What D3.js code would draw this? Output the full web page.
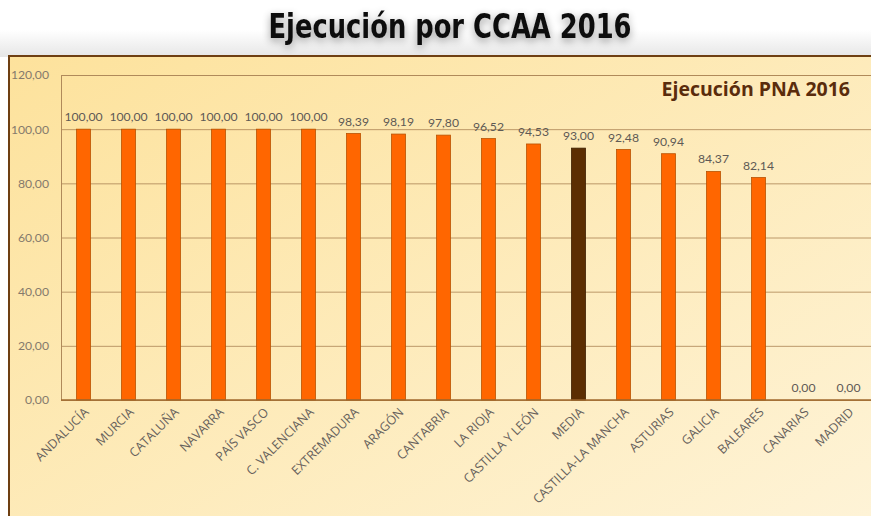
<!DOCTYPE html>
<html>
<head>
<meta charset="utf-8">
<script src="https://cdn.jsdelivr.net/npm/d3@7"></script>
<style>
  html, body { margin: 0; padding: 0; background: #fff; }
  svg { display: block; }
</style>
</head>
<body>
<div id="chart"></div>
<script>
// chart data
var regiones = ["ANDALUCÍA", "MURCIA", "CATALUÑA", "NAVARRA", "PAÍS VASCO", "C. VALENCIANA",
  "EXTREMADURA", "ARAGÓN", "CANTABRIA", "LA RIOJA", "CASTILLA Y LEÓN", "MEDIA",
  "CASTILLA-LA MANCHA", "ASTURIAS", "GALICIA", "BALEARES", "CANARIAS", "MADRID"];
var ejecucion = [100, 100, 100, 100, 100, 100, 98.39, 98.19, 97.80, 96.52, 94.53, 93.00,
  92.48, 90.94, 84.37, 82.14, 0, 0];
var yTicks = [0, 20, 40, 60, 80, 100, 120];
var titulo = "Ejecución por CCAA 2016";
var subtitulo = "Ejecución PNA 2016";

((() => {
  var width = 871;
  var height = 516;

  var svg = d3.select("#chart")
    .append("svg")
    .attr("width", width)
    .attr("height", height);

  var defs = svg.append("defs");

  var bg = defs.append("linearGradient").attr("id", "panelBg")
    .attr("x1", 0).attr("y1", 0).attr("x2", 1).attr("y2", 1);
  bg.append("stop").attr("offset", "0%").attr("stop-color", "#fde29c");
  bg.append("stop").attr("offset", "100%").attr("stop-color", "#fef4da");

  var topShade = defs.append("linearGradient").attr("id", "topShade")
    .attr("x1", 0).attr("y1", 0).attr("x2", 0).attr("y2", 1);
  topShade.append("stop").attr("offset", "0%").attr("stop-color", "#ffffff");
  topShade.append("stop").attr("offset", "100%").attr("stop-color", "#e6e6e6");

  var glow = defs.append("filter").attr("id", "glow")
    .attr("x", "-20%").attr("y", "-60%").attr("width", "140%").attr("height", "220%");
  glow.append("feGaussianBlur").attr("in", "SourceAlpha").attr("stdDeviation", 4).attr("result", "b");
  glow.append("feOffset").attr("in", "b").attr("dy", 3).attr("result", "o");
  glow.append("feComponentTransfer").attr("in", "o").attr("result", "s")
    .append("feFuncA").attr("type", "linear").attr("slope", 0.4);
  var merge = glow.append("feMerge");
  merge.append("feMergeNode").attr("in", "s");
  merge.append("feMergeNode").attr("in", "SourceGraphic");

  // grey shading above the panel
  svg.append("rect").attr("x", 0).attr("y", 30).attr("width", width).attr("height", 27)
    .attr("fill", "url(#topShade)");

  // panel
  svg.append("rect")
    .attr("x", 9).attr("y", 56)
    .attr("width", width).attr("height", height)
    .attr("fill", "url(#panelBg)")
    .attr("stroke", "#6e3f12")
    .attr("stroke-width", 2);

  // title
  svg.append("text")
    .attr("x", 450).attr("y", 38)
    .attr("text-anchor", "middle")
    .attr("font-family", "'DejaVu Sans Condensed', 'Liberation Sans Narrow', sans-serif")
    .attr("font-stretch", "condensed")
    .attr("font-weight", "bold")
    .attr("font-size", 33)
    .attr("fill", "#111")
    .attr("filter", "url(#glow)")
    .attr("textLength", 363)
    .attr("lengthAdjust", "spacingAndGlyphs")
    .text(titulo);

  var left = 61, right = 871, top = 75, bottom = 400;

  var x = d3.scaleBand()
    .domain(regiones)
    .range([left, right])
    .paddingInner(0.69)
    .paddingOuter(0.345);

  var y = d3.scaleLinear()
    .domain([0, 120])
    .range([bottom, top]);

  var fmt = function(v) { return d3.format(".2f")(v).replace(".", ","); };

  // gridlines
  var yAxis = d3.axisLeft(y)
    .tickValues(yTicks)
    .tickSize(-(right - left))
    .tickPadding(12)
    .tickFormat(fmt);

  var ya = svg.append("g")
    .attr("transform", "translate(" + left + ",0)")
    .call(yAxis);
  ya.select(".domain").attr("stroke", "#b08a5a").attr("stroke-width", 1);
  ya.selectAll(".tick line").attr("stroke", "#b08a5a").attr("stroke-opacity", 0.85);
  ya.selectAll(".tick text")
    .attr("font-family", "Lato, 'Open Sans', sans-serif")
    .attr("font-size", 12.2)
    .attr("fill", "#857a6c");

  // bars
  svg.append("g")
    .selectAll("rect")
    .data(regiones)
    .enter()
    .append("rect")
    .attr("x", function(d) { return x(d); })
    .attr("y", function(d, i) { return y(ejecucion[i]); })
    .attr("width", x.bandwidth())
    .attr("height", function(d, i) { return y(0) - y(ejecucion[i]); })
    .attr("fill", function(d) { return d == "MEDIA" ? "#5c2e02" : "#ff6600"; })
    .attr("stroke", function(d) { return d == "MEDIA" ? "#3d1f00" : "#b85200"; })
    .attr("stroke-width", 0.8);

  // bottom axis line
  svg.append("line")
    .attr("x1", left).attr("x2", right)
    .attr("y1", y(0)).attr("y2", y(0))
    .attr("stroke", "#a0682c")
    .attr("stroke-width", 1.3);

  // value labels
  svg.append("g")
    .selectAll("text")
    .data(regiones)
    .enter()
    .append("text")
    .attr("x", function(d) { return x(d) + x.bandwidth() / 2; })
    .attr("y", function(d, i) { return y(ejecucion[i]) - 8; })
    .attr("text-anchor", "middle")
    .attr("font-family", "Lato, 'Open Sans', sans-serif")
    .attr("font-size", 12.2)
    .attr("fill", "#5e5a55")
    .text(function(d, i) { return fmt(ejecucion[i]); });

  // category labels
  svg.append("g")
    .selectAll("text")
    .data(regiones)
    .enter()
    .append("text")
    .attr("transform", function(d) {
      return "translate(" + (x(d) + x.bandwidth() / 2 + 6) + "," + (bottom + 13) + ") rotate(-45)";
    })
    .attr("text-anchor", "end")
    .attr("font-family", "'Open Sans', sans-serif")
    .attr("font-size", 12.5)
    .attr("fill", "#66615c")
    .text(function(d) { return d; });

  // inner chart title
  svg.append("text")
    .attr("x", 850).attr("y", 96)
    .attr("text-anchor", "end")
    .attr("font-family", "'Open Sans', sans-serif")
    .attr("font-weight", "bold")
    .attr("font-size", 19.5)
    .attr("fill", "#5a2c0c")
    .text(subtitulo);
})());
</script>
</body>
</html>
